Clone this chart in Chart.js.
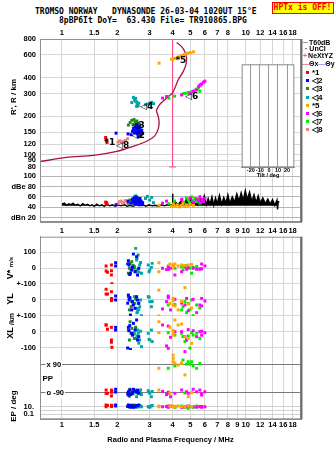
<!DOCTYPE html>
<html><head><meta charset="utf-8">
<script src="https://cdn.jsdelivr.net/npm/chart.js@4.4.1/dist/chart.umd.min.js"></script>
<style>
html,body{margin:0;padding:0;background:#fff;}
body{width:335px;height:451px;overflow:hidden;position:relative;font-family:"Liberation Sans",Arial,sans-serif;color:#000;}
canvas{position:absolute;}
.t{position:absolute;white-space:pre;line-height:1;}
.mono{font-family:"DejaVu Sans Mono",monospace;font-weight:bold;font-size:8px;}
.rot{position:absolute;white-space:nowrap;transform:translate(-50%,-50%) rotate(-90deg);font-weight:bold;font-size:8px;line-height:1;}
.lg{position:absolute;font-size:7px;font-weight:bold;line-height:1;white-space:nowrap;}
.sq{position:absolute;width:3px;height:3px;}
</style></head>
<body>
<div class="t mono" style="left:35px;top:8px;">TROMSO NORWAY   DYNASONDE 26-03-04 1020UT 15°E</div>
<div class="t mono" style="left:59px;top:16.5px;">8pBP6It DoY=  63.430 File= TR910865.BPG</div>
<div class="t mono" style="left:271.5px;top:1.5px;width:60px;height:10px;border:1px solid #ff0000;background:#ffff00;color:#ff0000;text-align:center;line-height:10px;">HPTx is OFF!</div>
<canvas id="c1" width="335" height="240" style="left:0;top:0"></canvas>
<canvas id="c2" width="335" height="229" style="left:0;top:222px"></canvas>
<canvas id="c3" width="64" height="122" style="left:236px;top:60px"></canvas>

<div class="rot" style="left:14px;top:97px;">R', R / km</div>
<div class="rot" style="left:10px;top:268px;font-size:9px;">V* <span style="font-size:6px">m/s</span></div>
<div class="rot" style="left:10px;top:299px;font-size:9px;">YL</div>
<div class="rot" style="left:11px;top:319px;font-size:7px;">/km</div>
<div class="rot" style="left:10px;top:332.5px;font-size:9px;">XL</div>
<div class="rot" style="left:14px;top:406px;">EP / deg</div>
<div class="t" style="left:42.5px;top:375px;font-size:8px;font-weight:bold;">PP</div>

<div class="lg" style="left:303px;top:38.5px;"><span style="display:inline-block;width:5px;border-top:1px solid #999;vertical-align:middle;margin-right:1px"></span>T60dB</div>
<div class="lg" style="left:305px;top:45px;"><span style="margin-right:2px">·</span>UnCl</div>
<div class="lg" style="left:303px;top:51.5px;"><span style="color:#ff4f8b;margin-right:1px">+</span>NeXtYZ</div>
<div class="lg" style="left:302px;top:59.5px;"><span style="color:#e07070">—</span>Θx<span style="color:#8888ff">—</span>Θy</div>
<div id="legend"></div>

<script>
// ---------- axis ticks ----------
const topFreqTicks = [1, 1.5, 2, 3, 4, 5, 6, 7, 8, 10, 12, 14, 16, 18];
const freqTicks = [1, 1.5, 2, 3, 4, 5, 6, 7, 8, 9, 10, 12, 14, 16, 18];
const heightTicks = [80, 90, 100, 120, 150, 200, 300, 400, 600, 800];
const dbeTickValues = [20, 40, 60, 80, 100];
const dbeTickLabels = ['dBn 20', '40', '60', 'dBe 80', '100'];
const vTickValues = [-100, 0, 100];
const vTickLabels = ['+-100', '0', '100'];
const ylTickValues = [-100, 0];
const ylTickLabels = ['+-100', '0'];
const xlTickValues = [-100, 0];
const xlTickLabels = ['-100', '0'];
const ppTickValues = [-90, 90];
const ppTickLabels = ['o -90', 'x 90'];
const epTickValues = [0.1, 1, 10];
const epTickLabels = ['0.1', '', '10.'];
const tiltTickValues = [-20, -10, 0, 10, 20];

// ---------- electron density profile (true height) ----------
const profileFreq = [0.76, 1.06, 1.48, 1.99, 2.44, 2.89, 3.20, 3.34, 3.38, 3.33, 3.27, 3.34, 3.45, 3.63, 3.79, 4.00, 4.29, 4.57, 4.72, 4.77, 4.67, 4.48, 4.21];
const profileHeight = [88, 95, 98.5, 106, 116, 127, 140, 158, 180, 203, 220, 236, 252, 268, 285, 302, 383, 445, 500, 568, 636, 698, 750];
const nextyzFreq = [4, 4];
const nextyzHeight = [80, 800];

// ---------- noise / amplitude trace (dBe) ----------
const noiseFreq = [1.00,1.03,1.06,1.09,1.12,1.15,1.18,1.22,1.26,1.30,1.34,1.38,1.42,1.46,1.50,1.55,1.60,1.65,1.70,1.76,1.82,1.88,1.95,2.02,2.10,2.18,2.26,2.35,2.44,2.54,2.64,2.75,2.86,2.98,3.10,3.22,3.35,3.48,3.62,3.76,3.90,3.98,4.00,4.02,4.15,4.30,4.45,4.60,4.75,4.90,5.05,5.20,5.35,5.50,5.65,5.80,5.95,6.10,6.25,6.40,6.55,6.70,6.85,7.00,7.20,7.40,7.60,7.80,8.00,8.20,8.45,8.70,8.95,9.20,9.45,9.70,9.95,10.2,10.5,10.8,11.1,11.4,11.7,12.0,12.4,12.8,13.2,13.6,14.0,14.4,14.8,14.9,15.0,15.1];
const noiseDb = [46,48,44,47,45,48,44,46,43,47,44,46,43,45,42,46,43,45,42,46,43,45,42,45,43,46,42,44,42,45,43,46,42,45,43,44,42,45,43,46,44,45,66,44,50,46,52,45,55,47,58,46,54,45,60,47,62,45,57,46,60,44,58,47,63,46,59,48,64,47,60,50,66,52,68,53,72,55,69,51,64,49,62,48,58,47,56,46,55,44,54,36,50,52];

// ---------- echoes: frequency (MHz), range (km), amplitude (dBe) ----------
const e1Freq = [1.73, 1.74, 1.75, 1.76];
const e1Range = [136, 131, 127, 124];
const e1Amp = [50, 47, 49, 46];
const e2Freq = [1.97,2.29,2.38,2.42,2.45,2.48,2.50,2.52,2.54,2.55,2.57,2.58,2.60,2.62,2.64,2.66,2.68,2.70,2.72,2.75,2.55,2.60,2.65];
const e2Range = [147,145,143,152,160,148,155,165,150,158,145,162,152,156,148,160,142,151,155,146,170,138,166];
const e2Amp = [45,52,48,55,50,58,47,53,60,49,56,51,46,54,48,57,50,52,45,49,55,47,53];
const e3Freq = [2.30,2.35,2.40,2.44,2.47,2.50,2.53,2.56,2.58,2.61,2.64,2.48,2.52];
const e3Range = [170,178,185,172,188,180,175,183,168,176,172,160,165];
const e3Amp = [48,54,50,57,46,52,55,49,58,51,47,53,50];
const e4Freq = [2.40,2.45,2.48,2.50,2.52,2.55,2.57,2.60,2.62,2.55,2.85,2.92,3.00,3.08,3.15];
const e4Range = [255,280,270,262,275,258,248,240,252,238,245,248,252,256,250];
const e4Amp = [50,56,60,48,62,53,58,46,55,51,57,61,54,59,49];
const e5Freq = [3.38,3.95,4.05,4.15,4.25,4.35,4.45,4.55,4.65,4.75,4.85,5.00,5.20];
const e5Range = [518,556,560,565,572,580,590,598,605,612,620,625,635];
const e5Amp = [44,42,46,43,45,41,44,47,42,45,43,46,44];
const e6Freq = [3.53,3.71,4.48,4.97,5.20,5.41,5.55,5.63,5.70,5.77,5.90,6.00];
const e6Range = [276,284,292,302,312,320,340,348,353,357,368,375];
const e6Amp = [48,52,55,58,50,56,53,60,49,55,51,57];
const e7Freq = [3.82,4.10,4.50,4.60,4.75,4.87,4.95,5.08,5.15,5.29,5.40,5.53,5.63];
const e7Range = [276,286,295,300,302,305,298,310,305,318,325,330,312];
const e7Amp = [47,52,56,50,58,54,49,60,53,57,51,55,48];
const e8Freq = [2.02,2.06,2.10,2.14,2.18,2.22,2.28];
const e8Range = [125,128,126,124,127,129,133];
const e8Amp = [47,51,52,48,50,53,49];

// ---------- echo parameters: V* (m/s), YL, XL (km), PP, EP (deg) ----------
const e1LoFreq = [1.74,1.86,1.74,1.77,1.86,1.86,1.87];
const e1V = [12,19,-19,-27,-17,-44,-98];
const e1YL = [67,52,37,37,10,-4,4];
const e1XL = [44,29,44,17,-50,-64,-96];
const e1PP = [-71,-71,-92,-92,-109,-85,-80];
const e1EP = [28,15,10,20,12,25,18];
const e2LoFreq = [1.96,1.96,2.30,2.32,2.45,2.55,2.40,2.50,2.62,2.36,2.58,2.42,2.34,2.28];
const e2V = [33,12,46,19,87,71,-12,-23,-2,-33,-44,5,-40,26];
const e2YL = [25,0,31,0,-31,21,-62,-52,-21,-94,0,-10,15,-20];
const e2XL = [29,12,29,8,54,75,-8,12,-29,-110,-50,-20,40,-100];
const e2PP = [-66,-84,-82,-103,-66,-85,-95,-78,-90,-100,-72,-88,-70,-96];
const e2EP = [28,15,28,10,7,20,25,12,30,8,18,15,20,12];
const e3LoFreq = [2.35,2.40,2.30,2.38,2.48,2.33,2.44,2.52];
const e3V = [29,40,-33,-12,8,-2,18,-20];
const e3YL = [10,-10,21,-42,-21,-62,-30,5];
const e3XL = [64,23,12,-8,-40,-50,-15,30];
const e3PP = [-66,-82,-103,-90,-75,-110,-95,-80];
const e3EP = [15,7,20,12,25,10,18,8];
const e4LoFreq = [2.52,2.60,2.55,2.65,2.58,2.71,2.48,2.95,3.01,3.07,2.98,3.10,2.62,2.68,2.56];
const e4V = [123,81,50,19,-12,-33,-2,19,-12,4,-23,29,-25,35,60];
const e4YL = [10,-21,-52,-42,-73,-98,21,21,-10,-42,17,-10,-60,0,-80];
const e4XL = [23,-8,-40,-50,12,-92,-8,-8,-50,12,-46,-60,-70,5,-25];
const e4PP = [-71,-92,-114,-80,-88,-100,-75,-75,-92,-114,-85,-80,-95,-70,-85];
const e4EP = [10,15,8,20,12,10,25,10,7,15,12,20,9,14,11];
const e5LoFreq = [3.37,3.37,3.87,4.03,4.03,4.12,4.29,4.48,4.67,4.87,5.08,4.03];
const e5V = [33,-23,25,12,20,25,12,19,15,19,22,5];
const e5YL = [62,-100,-21,-4,-31,-37,-62,-10,77,-25,-50,10];
const e5XL = [64,-4,30,10,-20,75,44,50,-30,-40,-71,-10];
const e5PP = [69,-71,-92,154,111,101,90,101,26,-114,-88,133];
const e5EP = [15,10,15,12,15,10,15,12,10,15,12,10];
const e6LoFreq = [3.53,3.79,3.71,3.90,4.12,4.48,4.67,4.77,4.87,5.18,5.41,5.63,5.76,6.00,5.76,3.79];
const e6V = [-2,4,-10,-2,-44,-23,8,-8,5,-2,-8,-8,25,12,-5,-10];
const e6YL = [-56,25,-10,-62,4,-20,-31,10,-67,4,-79,-31,10,-6,-37,15];
const e6XL = [44,37,-87,-33,2,2,-29,-50,15,8,-29,2,-20,-4,5,-102];
const e6PP = [-80,-92,-100,-114,-92,-71,176,-82,-92,-66,-82,-71,-103,-82,-95,-85];
const e6EP = [10,7,12,15,10,7,12,10,15,10,7,12,7,10,12,15];
const e7LoFreq = [3.79,4.12,4.48,4.56,4.77,4.87,5.08,5.18,5.41,5.63,4.67,4.97];
const e7V = [12,-2,8,-12,12,-2,-33,4,10,-5,15,0];
const e7YL = [-31,-27,-62,-42,-79,-21,0,-98,-31,-50,-10,-60];
const e7XL = [-4,-19,-8,-29,-50,-25,-4,-19,-8,-40,-60,-100];
const e7PP = [69,84,101,122,96,111,111,84,69,100,-90,95];
const e7EP = [10,7,15,7,10,4,10,7,15,10,7,12];
const e8LoFreq = [];
const e8V = [];
const e8YL = [];
const e8XL = [];
const e8PP = [];
const e8EP = [];

// ---------- mode markers ----------
const markFreq = [1.82, 2.14, 2.60, 2.60, 2.89, 4.44, 5.08];
const markRange = [123, 117, 140, 169, 235, 542, 283];
const markText = ['*1', '◁8', '◁2', '◁3', '◁4', '*5', '◁6'];
const legendText = ['*1', '◁2', '◁3', '◁4', '*5', '◁6', '◁7', '◁8'];

// ---------- styles ----------
const modes = [
  {color:'#ff0000', f:e1Freq, r:e1Range, a:e1Amp, lf:e1LoFreq, v:e1V, yl:e1YL, xl:e1XL, pp:e1PP, ep:e1EP},
  {color:'#0000ff', f:e2Freq, r:e2Range, a:e2Amp, lf:e2LoFreq, v:e2V, yl:e2YL, xl:e2XL, pp:e2PP, ep:e2EP},
  {color:'#1f8a1f', f:e3Freq, r:e3Range, a:e3Amp, lf:e3LoFreq, v:e3V, yl:e3YL, xl:e3XL, pp:e3PP, ep:e3EP},
  {color:'#00a5a5', f:e4Freq, r:e4Range, a:e4Amp, lf:e4LoFreq, v:e4V, yl:e4YL, xl:e4XL, pp:e4PP, ep:e4EP},
  {color:'#ffa500', f:e5Freq, r:e5Range, a:e5Amp, lf:e5LoFreq, v:e5V, yl:e5YL, xl:e5XL, pp:e5PP, ep:e5EP},
  {color:'#ff00ff', f:e6Freq, r:e6Range, a:e6Amp, lf:e6LoFreq, v:e6V, yl:e6YL, xl:e6XL, pp:e6PP, ep:e6EP},
  {color:'#00ee00', f:e7Freq, r:e7Range, a:e7Amp, lf:e7LoFreq, v:e7V, yl:e7YL, xl:e7XL, pp:e7PP, ep:e7EP},
  {color:'#f08080', f:e8Freq, r:e8Range, a:e8Amp, lf:e8LoFreq, v:e8V, yl:e8YL, xl:e8XL, pp:e8PP, ep:e8EP}
];

// legend (HTML text)
const legendTops = [69.2, 77.3, 85.4, 93.5, 101.6, 109.7, 117.8, 125.9];
let lh = '';
modes.forEach((m, i) => {
  lh += '<div class="sq" style="left:306px;top:' + (legendTops[i] + 2) + 'px;background:' + m.color + '"></div>';
  lh += '<div class="lg" style="left:312px;top:' + legendTops[i] + 'px;font-size:8px">' + legendText[i] + '</div>';
});
document.getElementById('legend').innerHTML = lh;

const pts = (xs, ys) => xs.map((x, i) => ({x: x, y: ys[i]}));
const setTicks = arr => s => { s.ticks = arr.map(v => ({value: v})); };
const fixW = w => s => { s.width = w; };
const fixH = h => s => { s.height = h; };
const labelFrom = (vals, labs) => v => { const i = vals.indexOf(v); return i < 0 ? '' : labs[i]; };
const TF = {family: '"Liberation Sans", Arial, sans-serif', size: 7.5, weight: 'bold'};
const FMIN = 0.76, FMAX = 20;
const AXIS_GREY = '#8f8f8f';

function freqAxis(position, ticks, showLabels, pad, h, gridOn) {
  return {
    type: 'logarithmic', position: position, min: FMIN, max: FMAX, bounds: 'data',
    afterBuildTicks: setTicks(ticks), afterFit: fixH(h),
    ticks: {display: showLabels, autoSkip: false, maxRotation: 0, minRotation: 0, padding: pad, font: TF, color: '#000', callback: v => String(v)},
    grid: {display: gridOn, color: '#d6d6d6', drawTicks: false},
    border: {display: true, color: AXIS_GREY}
  };
}
function leftAxis(type, stack, weightOrder, stackWeight, min, max, vals, labs, gridColor, extraTicks) {
  return {
    type: type, position: 'left', stack: stack, stackWeight: stackWeight, weight: weightOrder,
    min: min, max: max, bounds: 'data',
    afterBuildTicks: setTicks(vals), afterFit: fixW(40),
    ticks: Object.assign({autoSkip: false, padding: 4, font: TF, color: '#000', callback: labelFrom(vals, labs)}, extraTicks || {}),
    grid: {color: gridColor, drawTicks: false},
    border: {display: true, color: AXIS_GREY}
  };
}

const framePlugin = {
  id: 'frame',
  afterDraw(chart) {
    const {ctx, chartArea: a} = chart;
    ctx.save();
    ctx.strokeStyle = AXIS_GREY; ctx.lineWidth = 1;
    ctx.strokeRect(a.left + 0.5, a.top + 0.5, a.right - a.left - 1, a.bottom - a.top - 1);
    ctx.strokeStyle = '#6e6e6e'; ctx.lineWidth = 2;
    ctx.beginPath(); ctx.moveTo(a.right + 0.5, a.top); ctx.lineTo(a.right + 0.5, a.bottom); ctx.stroke();
    ctx.restore();
  }
};
const markPlugin = {
  id: 'marks',
  afterDatasetsDraw(chart) {
    const ctx = chart.ctx, xs = chart.scales.x, ys = chart.scales.yR;
    ctx.save();
    ctx.font = 'bold 9px "DejaVu Sans", sans-serif';
    ctx.fillStyle = '#000'; ctx.textAlign = 'center'; ctx.textBaseline = 'middle';
    markFreq.forEach((f, i) => ctx.fillText(markText[i], xs.getPixelForValue(f), ys.getPixelForValue(markRange[i])));
    ctx.restore();
  }
};

const dot = c => ({pointStyle: 'rect', pointRadius: 2.1, pointBorderWidth: 0, borderWidth: 0, backgroundColor: c, borderColor: c, showLine: false});

// ---------- top chart: heights + amplitudes ----------
const topSets = [];
modes.forEach(m => {
  topSets.push(Object.assign({data: pts(m.f, m.r), xAxisID: 'x', yAxisID: 'yR'}, dot(m.color)));
});
modes.forEach(m => {
  topSets.push(Object.assign({data: pts(m.f, m.a), xAxisID: 'x', yAxisID: 'yDb'}, dot(m.color)));
});
topSets.push({data: pts(profileFreq, profileHeight), xAxisID: 'x', yAxisID: 'yR', showLine: true, pointRadius: 0, borderColor: '#a8123c', borderWidth: 1.3, tension: 0.3});
topSets.push({data: pts(nextyzFreq, nextyzHeight), xAxisID: 'x', yAxisID: 'yR', showLine: true, pointStyle: 'line', pointRadius: 3.5, pointBorderWidth: 1, borderColor: '#ff4f8b', borderWidth: 1.2});
topSets.push({data: pts(noiseFreq, noiseDb), xAxisID: 'x', yAxisID: 'yDb', showLine: true, pointRadius: 0, borderColor: '#000', borderWidth: 1.4, fill: {value: 43}, backgroundColor: '#000'});

new Chart(document.getElementById('c1'), {
  type: 'scatter',
  data: {datasets: topSets},
  options: {
    animation: false, responsive: false, devicePixelRatio: 1, events: [],
    layout: {padding: {left: 0, right: 34, top: 0, bottom: 0}},
    plugins: {legend: {display: false}, tooltip: {enabled: false}},
    scales: {
      x: freqAxis('top', topFreqTicks, true, 2, 39, true),
      x2: freqAxis('bottom', freqTicks, true, 4, 18, false),
      yR: leftAxis('logarithmic', 'top', 2, 137, 68, 800, heightTicks, heightTicks.map(String), '#d6d6d6'),
      yDb: Object.assign(leftAxis('linear', 'top', 1, 46, 12, 100, dbeTickValues, dbeTickLabels, '#b5b5b5'),
        {grid: {drawTicks: false, color: c => (c.tick && c.tick.value === 20) ? '#a9a9ff' : '#b5b5b5'}})
    }
  },
  plugins: [framePlugin, markPlugin]
});

// ---------- lower chart: V*, YL, XL, PP, EP ----------
const lowSets = [];
const lowKeys = [['v', 'yV'], ['yl', 'yYL'], ['xl', 'yXL'], ['pp', 'yPP'], ['ep', 'yEP']];
lowKeys.forEach(k => {
  modes.forEach(m => {
    lowSets.push(Object.assign({data: pts(m.lf, m[k[0]]), xAxisID: 'x', yAxisID: k[1]}, dot(m.color)));
  });
});
const xLow = freqAxis('bottom', freqTicks, true, 1.5, 31.7, true);
xLow.title = {display: true, text: 'Radio and Plasma Frequency / MHz', font: TF, color: '#000', padding: {top: 0, bottom: 7}};

new Chart(document.getElementById('c2'), {
  type: 'scatter',
  data: {datasets: lowSets},
  options: {
    animation: false, responsive: false, devicePixelRatio: 1, events: [],
    layout: {padding: {left: 0, right: 34, top: 14.7, bottom: 0}},
    plugins: {legend: {display: false}, tooltip: {enabled: false}},
    scales: {
      x: xLow,
      yV: leftAxis('linear', 'lo', 5, 47.3, -100, 196, vTickValues, vTickLabels, '#d6d6d6'),
      yYL: leftAxis('linear', 'lo', 4, 32, -100, 100, ylTickValues, ylTickLabels, '#d6d6d6'),
      yXL: leftAxis('linear', 'lo', 3, 34, -112.5, 100, xlTickValues, xlTickLabels, '#d6d6d6'),
      yPP: leftAxis('linear', 'lo', 2, 50, -135, 186.4, ppTickValues, ppTickLabels, '#7a7a7a',
        {mirror: true, padding: 6.5, showLabelBackdrop: true, backdropColor: '#ffffff', backdropPadding: 1}),
      yEP: leftAxis('logarithmic', 'lo', 1, 19.3, 0.0048, 580, epTickValues, epTickLabels, '#d0d0d0', {padding: 6})
    }
  },
  plugins: [framePlugin]
});

// ---------- tilt inset ----------
const insetPlugin = {
  id: 'inset',
  beforeDraw(chart) {
    const {ctx, chartArea: a} = chart;
    ctx.save(); ctx.fillStyle = '#fff'; ctx.fillRect(a.left, a.top, a.right - a.left, a.bottom - a.top); ctx.restore();
  },
  afterDraw(chart) {
    const {ctx, chartArea: a} = chart;
    ctx.save(); ctx.strokeStyle = '#8a8a8a'; ctx.lineWidth = 1;
    ctx.strokeRect(a.left + 0.5, a.top + 0.5, a.right - a.left - 1, a.bottom - a.top - 1); ctx.restore();
  }
};
const SF = {family: '"Liberation Sans", Arial, sans-serif', size: 5.5, weight: 'bold'};
new Chart(document.getElementById('c3'), {
  type: 'scatter',
  data: {datasets: [{data: []}]},
  options: {
    animation: false, responsive: false, devicePixelRatio: 1, events: [],
    layout: {padding: {left: 5.7, right: 5.7, top: 4.3, bottom: 0}},
    plugins: {legend: {display: false}, tooltip: {enabled: false}},
    scales: {
      x: {type: 'linear', position: 'bottom', min: -30, max: 28, bounds: 'data',
        afterBuildTicks: setTicks(tiltTickValues), afterFit: fixH(14.7),
        ticks: {autoSkip: false, maxRotation: 0, padding: 0, font: SF, color: '#000', callback: v => String(v)},
        grid: {color: '#9a9a9a', drawTicks: false},
        border: {display: true, color: '#8a8a8a'},
        title: {display: true, text: 'Tilt / deg', font: SF, color: '#000', padding: {top: 0, bottom: 3.5}}},
      y: {display: false, min: 0, max: 1}
    }
  },
  plugins: [insetPlugin]
});
</script>
</body></html>
